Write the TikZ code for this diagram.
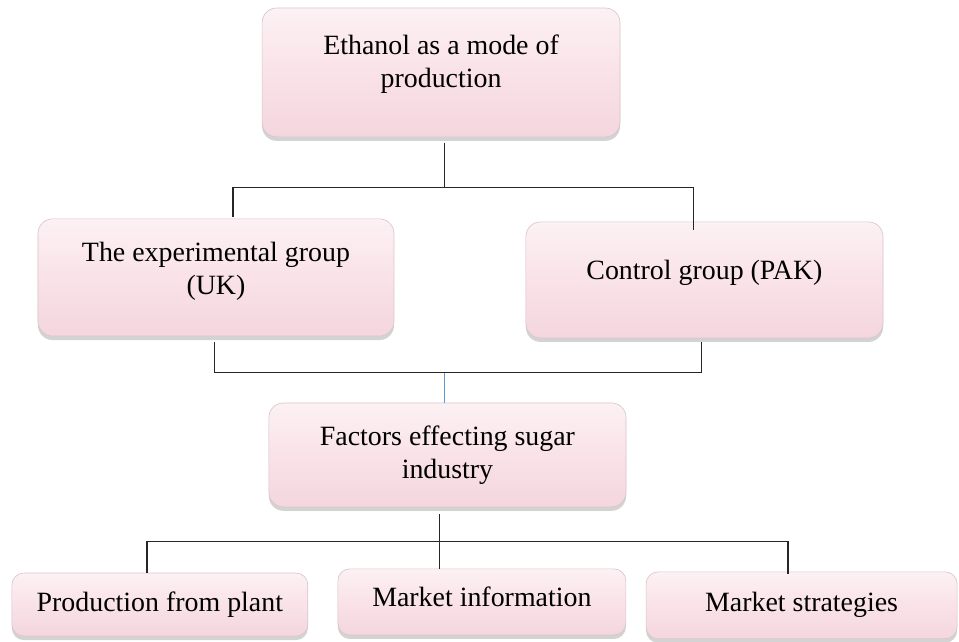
\documentclass[tikz,border=0pt]{standalone}
\usepackage{fontspec}
\setmainfont{Liberation Serif}
\usepackage{tikz}
\usetikzlibrary{positioning,shadows,calc}
\definecolor{boxtop}{HTML}{FCF1F4}
\definecolor{boxmid}{HTML}{F9E2E8}
\definecolor{boxbot}{HTML}{F4D6DE}
\definecolor{boxedge}{HTML}{D8C6CB}
\definecolor{linkcol}{HTML}{262626}
\definecolor{bluecol}{HTML}{5B9BD5}
\tikzset{
  pinkbox/.style={rectangle, rounded corners=11pt, draw=boxedge, line width=0.5pt,
                  top color=boxtop, bottom color=boxbot, middle color=boxmid,
                  drop shadow={shadow xshift=0pt, shadow yshift=-3pt, opacity=0.35},
                  align=center, inner sep=4pt,
                  font=\fontsize{21}{25}\selectfont},
  leafbox/.style={pinkbox, rounded corners=9pt},
  link/.style={draw=linkcol, line width=0.8pt},
  bluelink/.style={draw=bluecol, line width=0.8pt}
}

\begin{document}
\begin{tikzpicture}
  \useasboundingbox (0,0) rectangle (25.375,16.987);

  % ===== Top: the main topic =====
  \node[pinkbox, minimum width=9.47cm, minimum height=3.41cm,
        text depth=0.6cm] (eth) at (11.67,15.07)
        {Ethanol as a mode of\\production};

  % ===== Middle row: two groups =====
  \node[pinkbox, minimum width=9.42cm, minimum height=3.10cm,
        text depth=0.5cm] (exp) at (5.715,9.645)
        {The experimental group\\(UK)};
  \node[pinkbox, minimum width=9.45cm, minimum height=3.07cm,
        text depth=0.55cm] (ctl) at (18.64,9.58) {Control group (PAK)};

  % ===== Factors =====
  \node[pinkbox, minimum width=9.45cm, minimum height=2.75cm] (fac) at (11.84,4.95)
        {Factors effecting sugar\\industry};

  % ===== Bottom row =====
  \node[leafbox, minimum width=7.83cm, minimum height=1.67cm] (plant) at (4.23,0.99)
        {Production from plant};
  \node[leafbox, minimum width=7.62cm, minimum height=1.75cm,
        text depth=0.3cm] (info) at (12.75,1.06) {Market information};
  \node[leafbox, minimum width=8.23cm, minimum height=1.77cm] (strat) at (21.21,0.97)
        {Market strategies};

  % ===== Connectors =====
  \coordinate (top-j) at (11.77,12.03);
  \coordinate (mid-j) at (11.77,7.12);
  \coordinate (bot-j) at (11.64,2.67);

  % eth -> exp, ctl
  \draw[link, shorten <=4pt] (eth.south -| top-j) -- (top-j);
  \draw[link, shorten >=1pt] (top-j) -| ([xshift=0.45cm]exp.north);
  \draw[link, shorten >=-6pt] (top-j) -| ([xshift=-0.28cm]ctl.north);

  % exp, ctl -> fac
  \draw[link, shorten <=4pt] ([xshift=-0.05cm]exp.south) |- (mid-j);
  \draw[link, shorten <=3pt] ([xshift=-0.09cm]ctl.south) |- (mid-j);
  \draw[bluelink] (mid-j) -- (mid-j |- fac.north);

  % fac -> bottom row
  \draw[link, shorten <=5pt] (fac.south -| bot-j) -- (bot-j);
  \draw[link] (bot-j) -| ([xshift=-0.34cm]plant.north);
  \draw[link] (bot-j) -- (bot-j |- info.north);
  \draw[link, shorten >=-2pt] (bot-j) -| ([xshift=-0.36cm]strat.north);

\end{tikzpicture}
\end{document}
